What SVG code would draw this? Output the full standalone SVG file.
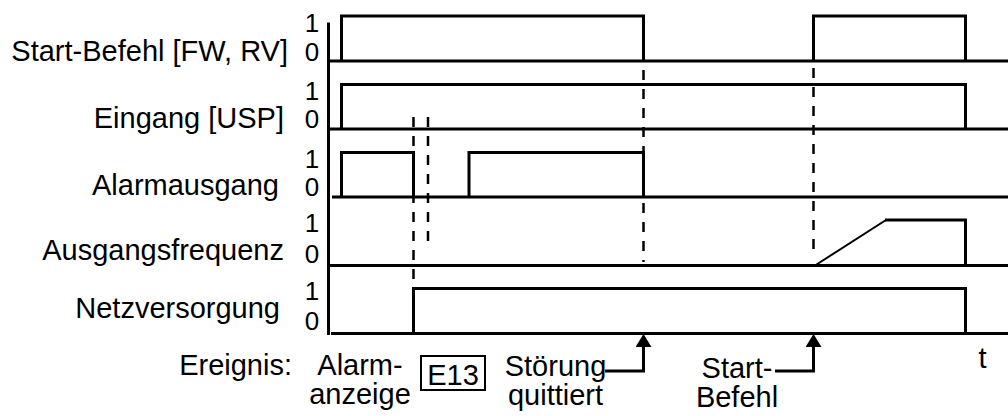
<svg xmlns="http://www.w3.org/2000/svg" width="1008" height="416" viewBox="0 0 1008 416">
  <style>
    .lbl { font-family: "Liberation Sans", Arial, sans-serif; font-size: 29px; fill: #000; }
    .end { text-anchor: end; }
    .mid { text-anchor: middle; }
    .dig { font-family: "Liberation Sans", Arial, sans-serif; font-size: 26px; fill: #000; text-anchor: middle; }
    .sig { fill: none; stroke: #000; stroke-width: 3; stroke-linejoin: miter; stroke-linecap: butt; }
    .thin { fill: none; stroke: #000; stroke-width: 2; }
    .dash { fill: none; stroke: #000; stroke-width: 2.5; stroke-dasharray: 10 9; }
    .box { fill: none; stroke: #000; stroke-width: 2; }
  </style>
  <defs>
    <marker id="arrow" viewBox="0 0 13 16" refX="0" refY="8" markerWidth="13" markerHeight="16" markerUnits="userSpaceOnUse" orient="auto">
      <path d="M0,0 L13,8 L0,16 z" fill="#000"/>
    </marker>
  </defs>
  <rect width="1008" height="416" fill="#fff"/>

  <g id="axis">
    <line class="sig" x1="328.5" y1="22.5" x2="328.5" y2="335"/>
  </g>

  <g id="row-start">
    <text class="lbl end" x="288" y="61">Start-Befehl [FW, RV]</text>
    <text class="dig" x="312" y="32">1</text>
    <text class="dig" x="312" y="61">0</text>
    <line class="sig" x1="328" y1="61" x2="1008" y2="61"/>
    <polyline class="sig" points="341.5,61 341.5,16 643.5,16 643.5,61"/>
    <polyline class="sig" points="813.5,61 813.5,16 965.5,16 965.5,61"/>
  </g>

  <g id="row-usp">
    <text class="lbl end" x="284" y="128">Eingang [USP]</text>
    <text class="dig" x="312" y="100">1</text>
    <text class="dig" x="312" y="128">0</text>
    <line class="sig" x1="328" y1="129" x2="1008" y2="129"/>
    <polyline class="sig" points="341.5,129 341.5,84.5 965.5,84.5 965.5,129"/>
  </g>

  <g id="row-alarm">
    <text class="lbl end" x="279" y="195">Alarmausgang</text>
    <text class="dig" x="312" y="168">1</text>
    <text class="dig" x="312" y="196">0</text>
    <line class="sig" x1="332" y1="197" x2="1008" y2="197"/>
    <polyline class="sig" points="341.5,197 341.5,152.5 413.5,152.5 413.5,197"/>
    <polyline class="sig" points="469,197 469,152.5 643.5,152.5 643.5,197"/>
  </g>

  <g id="row-freq">
    <text class="lbl end" x="284" y="260">Ausgangsfrequenz</text>
    <text class="dig" x="312" y="232">1</text>
    <text class="dig" x="312" y="263">0</text>
    <line class="sig" x1="328" y1="265.5" x2="1008" y2="265.5"/>
    <line class="thin" x1="815" y1="265.5" x2="886" y2="220"/>
    <polyline class="sig" points="885,220 965.5,220 965.5,265.5"/>
  </g>

  <g id="row-power">
    <text class="lbl end" x="280" y="318">Netzversorgung</text>
    <text class="dig" x="312" y="300">1</text>
    <text class="dig" x="312" y="330">0</text>
    <line class="sig" x1="331" y1="333.5" x2="1008" y2="333.5"/>
    <polyline class="sig" points="413.5,333.5 413.5,288.5 965.5,288.5 965.5,333.5"/>
  </g>

  <g id="dashes">
    <line class="dash" x1="413.5" y1="117" x2="413.5" y2="287"/>
    <line class="dash" x1="428" y1="117" x2="428" y2="243"/>
    <line class="dash" x1="643.5" y1="70" x2="643.5" y2="262"/>
    <line class="dash" x1="813.5" y1="68" x2="813.5" y2="258"/>
  </g>

  <g id="events">
    <text class="lbl end" x="292" y="375">Ereignis:</text>
    <text class="lbl mid" x="360" y="375">Alarm-</text>
    <text class="lbl mid" x="360" y="404">anzeige</text>
    <g id="e13">
      <rect class="box" x="421" y="356" width="64" height="34"/>
      <text class="lbl mid" x="453" y="385">E13</text>
    </g>
    <text class="lbl mid" x="555.5" y="376">Störung</text>
    <text class="lbl mid" x="555.5" y="405">quittiert</text>
    <text class="lbl mid" x="737" y="378">Start-</text>
    <text class="lbl mid" x="737" y="407">Befehl</text>
    <text class="lbl mid" x="982.5" y="368">t</text>
  </g>

  <g id="connectors">
    <polyline class="sig" points="605,371 643.5,371 643.5,347" marker-end="url(#arrow)"/>
    <polyline class="sig" points="775,371 813.5,371 813.5,347" marker-end="url(#arrow)"/>
  </g>
</svg>
